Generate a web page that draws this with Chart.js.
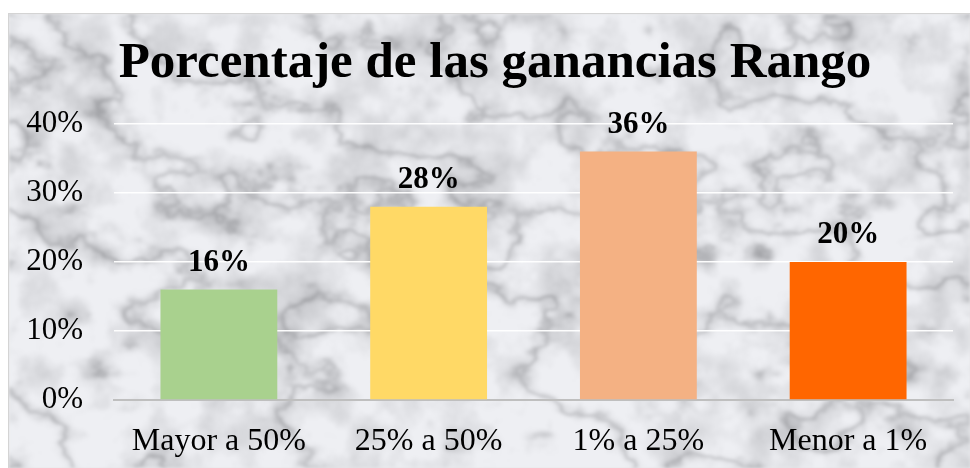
<!DOCTYPE html>
<html>
<head>
<meta charset="utf-8">
<script src="https://cdn.jsdelivr.net/npm/chart.js@4.4.0/dist/chart.umd.min.js"></script>
<style>
  html, body { margin: 0; padding: 0; background: #fff; overflow: hidden; }
  #marco {
    position: absolute; left: 8px; top: 13px; width: 961px; height: 454px;
    border: 1px solid #d4d4d4; background: #e6e7ea; overflow: hidden;
  }
  #marco canvas { position: absolute; left: 0; top: 0; }
  #fondo { filter: blur(1.5px); }
</style>
</head>
<body>
<div id="marco">
  <canvas id="fondo" width="961" height="454"></canvas>
  <canvas id="grafico" width="961" height="454"></canvas>
</div>
<script>
// Datos del gráfico
const titulo = "Porcentaje de las ganancias Rango";
const categorias = ["Mayor a 50%", "25% a 50%", "1% a 25%", "Menor a 1%"];
const porcentajes = [0.16, 0.28, 0.36, 0.20];
const colores = ["#A9D18E", "#FFD966", "#F4B183", "#FF6600"];
const ticksY = [0, 0.1, 0.2, 0.3, 0.4];

const fmt = (v) => Math.round(v * 100) + "%";
const serif = "'Liberation Serif', 'Times New Roman', serif";

// Fondo tipo mármol (textura decorativa, ruido determinista)
function pintarFondo() {
  const c = document.getElementById("fondo");
  const g = c.getContext("2d");
  const w = c.width, h = c.height;
  const img = g.createImageData(w, h);
  const hash = (x, y) => {
    const s = Math.sin(x * 127.1 + y * 311.7) * 43758.5453;
    return s - Math.floor(s);
  };
  const ruido = (x, y) => {
    const ix = Math.floor(x), iy = Math.floor(y);
    const fx = x - ix, fy = y - iy;
    const ux = fx * fx * (3 - 2 * fx), uy = fy * fy * (3 - 2 * fy);
    const a = hash(ix, iy), b = hash(ix + 1, iy);
    const c2 = hash(ix, iy + 1), d = hash(ix + 1, iy + 1);
    return a + (b - a) * ux + (c2 - a) * uy + (a - b - c2 + d) * ux * uy;
  };
  const turb = (x, y) => {
    let t = 0, f = 1, amp = 1;
    for (let o = 0; o < 5; o++) {
      t += ruido(x * f, y * f) * amp;
      f *= 2; amp *= 0.5;
    }
    return t / 1.9375;
  };
  for (let y = 0; y < h; y++) {
    for (let x = 0; x < w; x++) {
      const t = turb(x / 80, y / 60);
      const v = Math.abs(Math.sin((x * 0.012 - y * 0.02) + t * 8));
      const vena = Math.pow(1 - v, 3);
      const manchas = turb(x / 30 + 40, y / 30 + 17);
      let val = 240 - vena * 45 - Math.max(0, manchas - 0.42) * 75;
      val = Math.max(165, Math.min(246, val));
      const i = (y * w + x) * 4;
      img.data[i] = val - 2;
      img.data[i + 1] = val - 1;
      img.data[i + 2] = val + 3;
      img.data[i + 3] = 255;
    }
  }
  g.putImageData(img, 0, 0);
}
pintarFondo();

// Título centrado sobre todo el gráfico
const tituloPlugin = {
  id: "tituloPlugin",
  afterDraw(chart) {
    const ctx = chart.ctx;
    ctx.save();
    ctx.font = "bold 51px " + serif;
    ctx.fillStyle = "#000";
    ctx.textAlign = "center";
    ctx.textBaseline = "middle";
    ctx.fillText(titulo, 486, 50);
    ctx.restore();
  },
};

// Etiquetas encima de las barras
const etiquetas = {
  id: "etiquetas",
  afterDatasetsDraw(chart) {
    const ctx = chart.ctx;
    const meta = chart.getDatasetMeta(0);
    ctx.save();
    ctx.font = "bold 31px " + serif;
    ctx.fillStyle = "#000";
    ctx.textAlign = "center";
    ctx.textBaseline = "alphabetic";
    meta.data.forEach((bar, i) => {
      ctx.fillText(fmt(porcentajes[i]), bar.x, bar.y - 19);
    });
    ctx.restore();
  },
};

const ctx = document.getElementById("grafico").getContext("2d");
const miGrafico = new Chart(ctx, {
  type: "bar",
  data: {
    labels: categorias,
    datasets: [
      {
        label: "Porcentaje",
        data: porcentajes,
        backgroundColor: colores,
        borderWidth: 0,
        categoryPercentage: 1,
        barPercentage: 0.557,
      },
    ],
  },
  options: {
    responsive: false,
    animation: false,
    layout: { padding: { left: 0, right: 17, top: 110, bottom: 0 } },
    plugins: {
      legend: { display: false },
      tooltip: { enabled: false },
      title: { display: false },
    },
    scales: {
      x: {
        grid: { display: false },
        border: { display: true, color: "#bfbfbf", width: 2 },
        ticks: { color: "#000", font: { family: serif, size: 32 }, padding: 14 },
        afterFit(scale) { scale.height = 68; },
      },
      y: {
        min: 0,
        max: 0.4,
        afterBuildTicks(scale) { scale.ticks = ticksY.map((v) => ({ value: v })); },
        grid: { color: "rgba(255,255,255,0.95)", lineWidth: 1.5, drawTicks: false },
        border: { display: false },
        ticks: { color: "#000", font: { family: serif, size: 31 }, padding: 31, callback: (v) => fmt(v) },
        afterFit(scale) { scale.width = 105; },
      },
    },
  },
  plugins: [etiquetas, tituloPlugin],
});
</script>
</body>
</html>
